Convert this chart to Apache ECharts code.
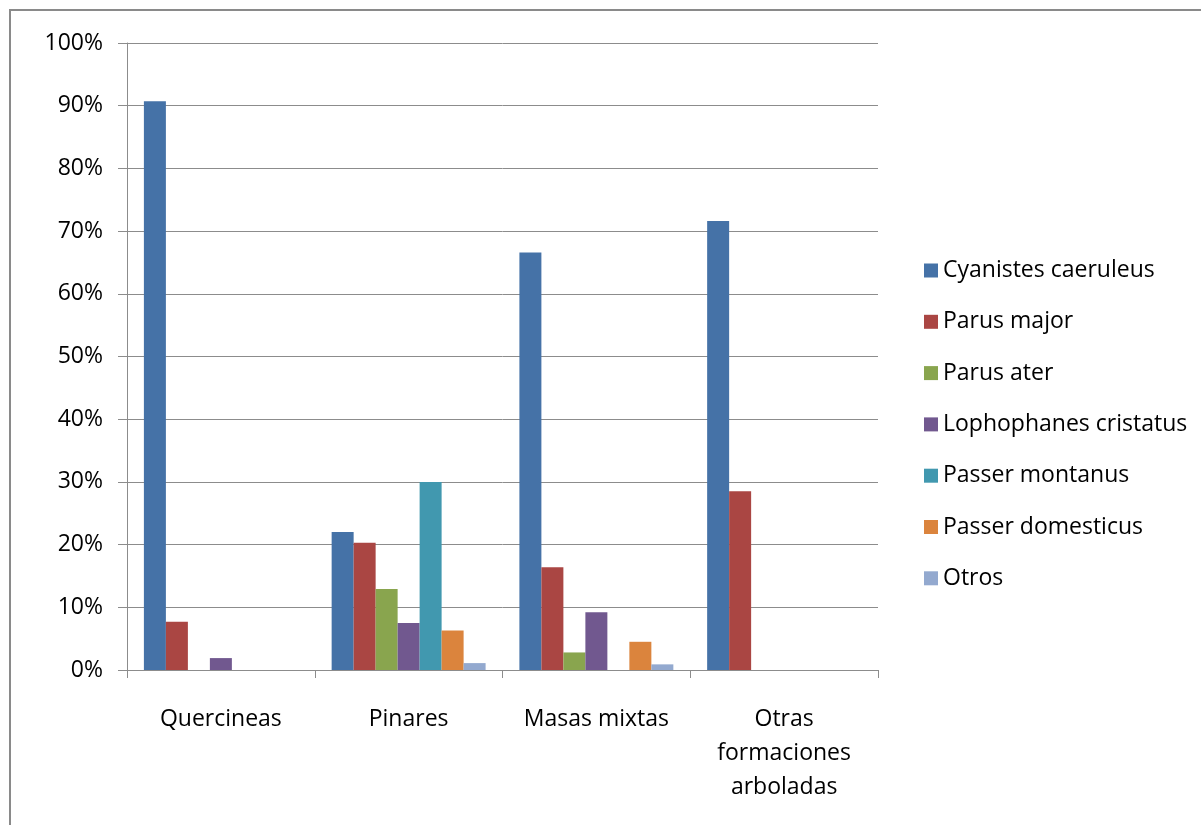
<!DOCTYPE html>
<html>
<head>
<meta charset="utf-8">
<script src="https://cdn.jsdelivr.net/npm/echarts@6/dist/echarts.min.js"></script>
<style>
  html, body { margin: 0; padding: 0; background: #fff; }
  #chart { width: 1201px; height: 825px; }
</style>
</head>
<body>
<div id="chart"></div>
<script>
// datos
var categories = ['Quercineas', 'Pinares', 'Masas mixtas', 'Otras\nformaciones\narboladas'];
var speciesNames = ['Cyanistes caeruleus', 'Parus major', 'Parus ater', 'Lophophanes cristatus',
    'Passer montanus', 'Passer domesticus', 'Otros'];
var cyanistes = [90.7, 22.0, 66.6, 71.6];
var parusMajor = [7.7, 20.3, 16.4, 28.5];
var parusAter = [0, 12.9, 2.8, 0];
var lophophanes = [1.9, 7.5, 9.2, 0];
var passerMontanus = [0, 30.0, 0, 0];
var passerDomesticus = [0, 6.3, 4.5, 0];
var otros = [0, 1.1, 0.9, 0];
var yTicks = [0, 10, 20, 30, 40, 50, 60, 70, 80, 90, 100];

var seriesValues = [cyanistes, parusMajor, parusAter, lophophanes, passerMontanus, passerDomesticus, otros];
var colors = ['#4572A7', '#AA4643', '#89A54E', '#71588F', '#4198AF', '#DB843D', '#93A9CF'];

(function() {
    var myChart = echarts.init(document.getElementById('chart'));
    var fontFamily = '"Open Sans", sans-serif';
    var option = {
        color: colors,
        animation: false,
        graphic: [{
            type: 'rect',
            shape: { x: 10, y: 10, width: 1200, height: 830 },
            style: { fill: 'none', stroke: '#8a8a8a', lineWidth: 2 }
        }],
        grid: {
            left: 127,
            right: 323,
            top: 43,
            bottom: 155
        },
        legend: {
            orient: 'vertical',
            left: 919,
            top: 254,
            itemWidth: 14,
            itemHeight: 14,
            itemGap: 28.3,
            icon: 'rect',
            textStyle: {
                fontFamily: fontFamily,
                fontSize: 23,
                color: '#000'
            },
            data: speciesNames
        },
        xAxis: {
            type: 'category',
            data: categories,
            axisLine: { lineStyle: { color: '#8c8c8c', width: 1 } },
            axisTick: { show: true, interval: 0, length: 8, lineStyle: { color: '#8c8c8c' } },
            axisLabel: {
                interval: 0,
                margin: 32,
                color: '#000',
                fontFamily: fontFamily,
                fontSize: 23,
                lineHeight: 34
            }
        },
        yAxis: {
            type: 'value',
            min: yTicks[0],
            max: yTicks[yTicks.length - 1],
            interval: 10,
            axisLine: { show: true, lineStyle: { color: '#8c8c8c', width: 1 } },
            axisTick: { show: true, length: 9, lineStyle: { color: '#8c8c8c' } },
            splitLine: { lineStyle: { color: '#8c8c8c', width: 1 } },
            axisLabel: {
                margin: 24,
                color: '#000',
                fontFamily: fontFamily,
                fontSize: 23,
                formatter: '{value}%'
            }
        },
        series: speciesNames.map(function(name, i) {
            return {
                name: name,
                type: 'bar',
                barGap: 0,
                barCategoryGap: '18%',
                data: seriesValues[i]
            };
        })
    };
    myChart.setOption(option);
    window.addEventListener('resize', function() {
        myChart.resize();
    });
})();
</script>
</body>
</html>
